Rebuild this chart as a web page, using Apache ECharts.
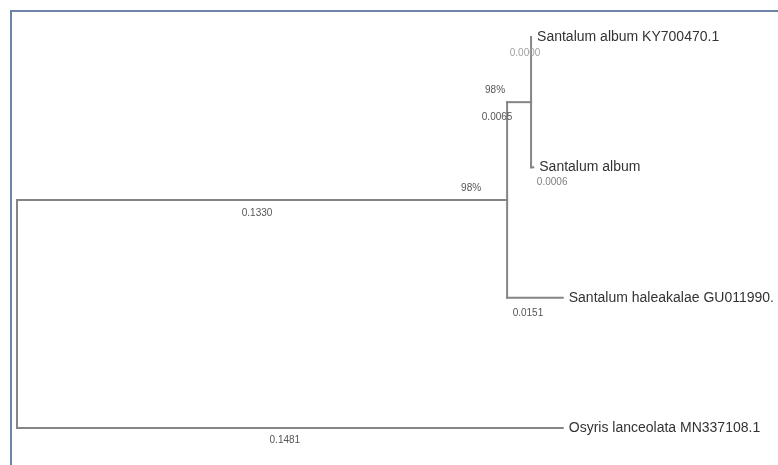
<!DOCTYPE html>
<html>
<head>
<meta charset="utf-8">
<script src="https://cdn.jsdelivr.net/npm/echarts@6/dist/echarts.min.js"></script>
<style>
  html, body { margin: 0; padding: 0; background: #ffffff; }
  #chart { width: 778px; height: 465px; }
</style>
</head>
<body>
<div id="chart"></div>
<script>
// Taxa (tips), listed top to bottom
const taxa = [
  'Santalum album KY700470.1',
  'Santalum album',
  'Santalum haleakalae GU011990.',
  'Osyris lanceolata MN337108.1'
];
// Branch length leading to each tip
const tipLengths = [0.0000, 0.0006, 0.0151, 0.1481];
// Internal node that each tip hangs from
const tipParent = [0, 0, 1, 2];
// Internal nodes: 0 = (KY700470.1, album), 1 = (node 0, haleakalae), 2 = root
const nodeLengths = [0.0065, 0.1330, 0];
const nodeParent = [1, 2, -1];
const nodeSupport = ['98%', '98%', ''];

// ---- layout / style (pixel offsets for the labels) ----
const FONT = "'Liberation Sans', Arial, sans-serif";
const tipLabelOffset = [[-6, 16], [20, 15], [-7, 16], [-5, 12]];
const nodeLabelOffset = [[-22, 15], [-5, 13]];
const tipLabelColor = ['#a0a0a0', '#808080', '#555555', '#555555'];
const nodeLabelColor = ['#555555', '#555555'];
const supportOffset = [-36, -12];

// ---- build tree geometry in data units (x = distance, y = row) ----
const nNodes = nodeLengths.length;
const nodeX = new Array(nNodes).fill(null);
function xOf(i) {
  if (nodeX[i] !== null) return nodeX[i];
  nodeX[i] = nodeParent[i] < 0 ? 0 : xOf(nodeParent[i]) + nodeLengths[i];
  return nodeX[i];
}
for (let i = 0; i < nNodes; i++) xOf(i);
const tipX = tipLengths.map((l, i) => nodeX[tipParent[i]] + l);
const tipY = taxa.map((_, i) => i);

// children lists of each internal node
const kids = Array.from({ length: nNodes }, () => []);
tipY.forEach((y, i) => kids[tipParent[i]].push({ type: 'tip', i }));
nodeParent.forEach((p, i) => { if (p >= 0) kids[p].push({ type: 'node', i }); });

const nodeY = new Array(nNodes).fill(null);
function yOf(i) {
  if (nodeY[i] !== null) return nodeY[i];
  const ys = kids[i].map(k => k.type === 'tip' ? tipY[k.i] : yOf(k.i));
  nodeY[i] = (Math.min(...ys) + Math.max(...ys)) / 2;
  return nodeY[i];
}
for (let i = 0; i < nNodes; i++) yOf(i);

// segments [x1, y1, x2, y2]
const segments = [];
tipX.forEach((x, i) => segments.push([nodeX[tipParent[i]], tipY[i], x, tipY[i]]));
nodeParent.forEach((p, i) => { if (p >= 0) segments.push([nodeX[p], nodeY[i], nodeX[i], nodeY[i]]); });
kids.forEach((list, i) => {
  const ys = list.map(k => k.type === 'tip' ? tipY[k.i] : nodeY[k.i]);
  segments.push([nodeX[i], Math.min(...ys), nodeX[i], Math.max(...ys)]);
});

// text items: [x, y, text, dx, dy, color, size, align]
const texts = [];
tipX.forEach((x, i) => {
  texts.push([x, tipY[i], taxa[i], 6, 0, '#333333', 14, 'left']);
  const mid = (nodeX[tipParent[i]] + x) / 2;
  texts.push([mid, tipY[i], tipLengths[i].toFixed(4), tipLabelOffset[i][0], tipLabelOffset[i][1], tipLabelColor[i], 10, 'center']);
});
nodeParent.forEach((p, i) => {
  if (p < 0) return;
  const mid = (nodeX[p] + nodeX[i]) / 2;
  texts.push([mid, nodeY[i], nodeLengths[i].toFixed(4), nodeLabelOffset[i][0], nodeLabelOffset[i][1], nodeLabelColor[i], 10, 'center']);
  texts.push([nodeX[i], nodeY[i], nodeSupport[i], supportOffset[0], supportOffset[1], '#555555', 10, 'center']);
});

const chart = echarts.init(document.getElementById('chart'), null, { renderer: 'canvas' });
chart.setOption({
  animation: false,
  backgroundColor: '#ffffff',
  grid: { left: 17, right: 24, top: 37, height: 391 },
  xAxis: { type: 'value', min: 0, max: 0.2, show: false },
  yAxis: { type: 'value', min: 0, max: 3, inverse: true, show: false },
  graphic: [
    { type: 'line', shape: { x1: 11, y1: 11, x2: 778, y2: 11 }, style: { stroke: '#6c84a8', lineWidth: 2 } },
    { type: 'line', shape: { x1: 11, y1: 10, x2: 11, y2: 465 }, style: { stroke: '#6c84a8', lineWidth: 2 } }
  ],
  series: [
    {
      type: 'custom',
      clip: false,
      data: segments,
      renderItem: function (params, api) {
        const a = api.coord([api.value(0), api.value(1)]);
        const b = api.coord([api.value(2), api.value(3)]);
        return {
          type: 'line',
          shape: { x1: a[0], y1: a[1], x2: b[0], y2: b[1] },
          style: { stroke: '#858585', lineWidth: 2, lineCap: 'square' }
        };
      }
    },
    {
      type: 'custom',
      clip: false,
      data: texts,
      renderItem: function (params, api) {
        const t = texts[params.dataIndex];
        const p = api.coord([t[0], t[1]]);
        return {
          type: 'text',
          x: p[0] + t[3],
          y: p[1] + t[4],
          style: {
            text: t[2],
            fill: t[5],
            font: t[6] + 'px ' + FONT,
            align: t[7],
            verticalAlign: 'middle'
          }
        };
      }
    }
  ]
});
</script>
</body>
</html>
